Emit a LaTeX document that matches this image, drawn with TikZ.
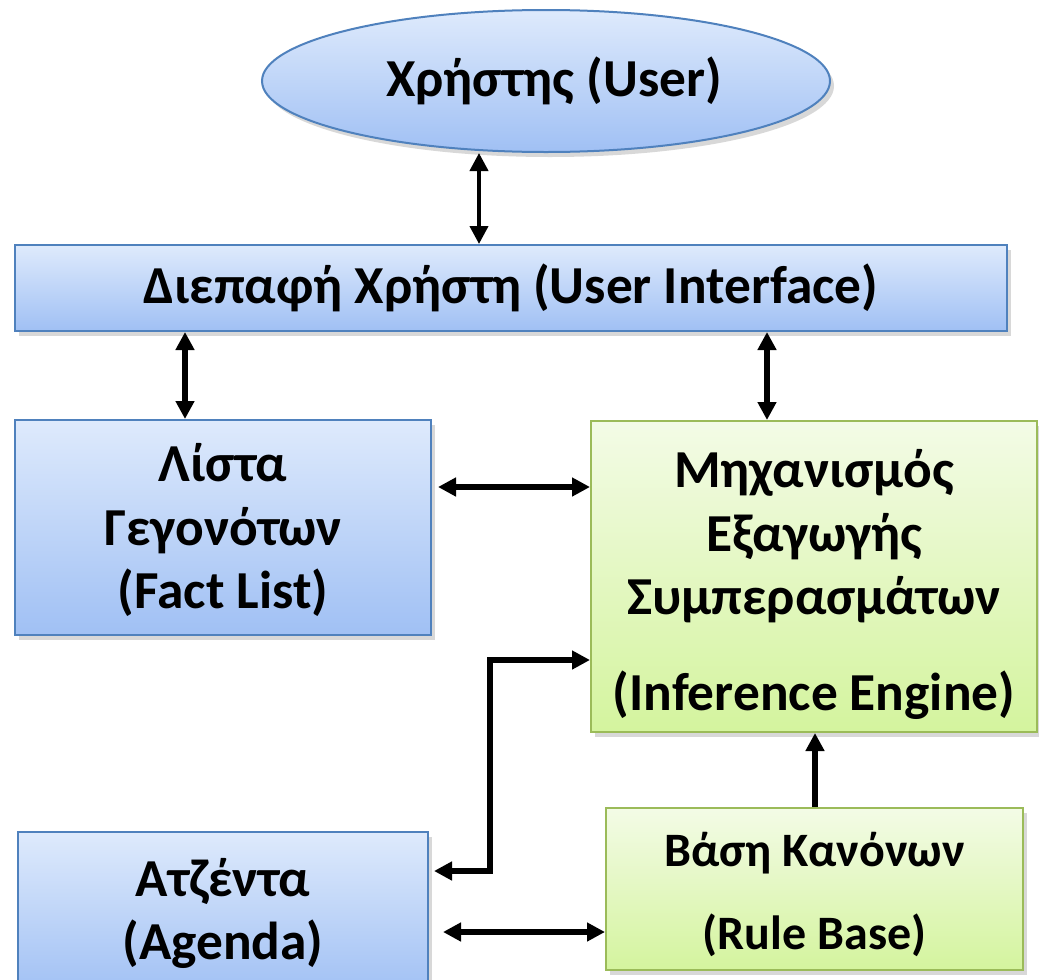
\documentclass[tikz,border=0pt]{standalone}
\usepackage{fontspec}
\setmainfont{Carlito}
\usetikzlibrary{arrows.meta,shapes.geometric,shadows}
\definecolor{bluetop}{RGB}{222,234,252}
\definecolor{bluebot}{RGB}{160,192,244}
\definecolor{blueline}{RGB}{79,129,189}
\definecolor{greentop}{RGB}{243,251,230}
\definecolor{greenbot}{RGB}{212,244,158}
\definecolor{greenline}{RGB}{155,187,89}
\begin{document}
\begin{tikzpicture}[x=0.5pt,y=-0.5pt,
  lbl/.style={font=\bfseries\fontsize{26.7}{31.75}\selectfont, align=center, text=black},
  shadowed/.style={drop shadow={opacity=0.3, shadow xshift=2pt, shadow yshift=-2.5pt}},
  bluebox/.style={draw=blueline, line width=1pt, top color=bluetop, bottom color=bluebot, shadowed, inner sep=0pt, lbl},
  greenbox/.style={draw=greenline, line width=1pt, top color=greentop, bottom color=greenbot, shadowed, inner sep=0pt, lbl},
  arr/.style={line width=2.9pt, {Triangle[length=9pt,width=9pt]}-{Triangle[length=9pt,width=9pt]}},
  arrone/.style={line width=2.9pt, -{Triangle[length=9pt,width=9pt]}}
]
\clip (0,0) rectangle (1039,980);
\fill[white] (0,0) rectangle (1039,980);

\node[bluebox, ellipse, minimum width=284pt, minimum height=71pt] (user) at (546,81) {\hspace*{8pt}Χρήστης (User)};
\node[bluebox, rectangle, minimum width=496pt, minimum height=43pt] (ui) at (511,288) {Διεπαφή Χρήστη (User Interface)};
\node[bluebox, rectangle, minimum width=208pt, minimum height=107.5pt] (fact) at (223,527.5) {\rule{0pt}{22pt}Λίστα\\Γεγονότων\\(Fact List)};
\node[greenbox, rectangle, minimum width=223pt, minimum height=155.5pt] (inf) at (814,576.5) {\rule{0pt}{27pt}Μηχανισμός\\Εξαγωγής\\Συμπερασμάτων\\[16pt](Inference Engine)};
\node[bluebox, rectangle, minimum width=205pt, minimum height=81.5pt] (agenda) at (223,913.5) {Ατζέντα\\(Agenda)};
\node[greenbox, rectangle, minimum width=208.5pt, minimum height=81pt, font=\bfseries\fontsize{24}{28.8}\selectfont] (rule) at (814.5,889) {\rule{0pt}{23pt}Βάση Κανόνων\\[12.7pt](Rule Base)};

\coordinate (bend1) at (490,871);
\coordinate (bend2) at (490,660);

\draw[arr, line width=2pt] (user.south -| 479,0) -- (ui.north -| 479,0);
\draw[arr] (ui.south -| 185,0) -- (fact.north -| 185,0);
\draw[arr] (ui.south -| 767,0) -- (inf.north -| 767,0);
\draw[arr] ([xshift=3pt]fact.east |- 0,487) -- (inf.west |- 0,487);
\draw[arr] ([xshift=2.5pt]agenda.east |- bend1) -- (bend1) -- (bend2) -- (inf.west |- bend2);
\draw[arrone] (rule.north -| 815,0) -- (inf.south -| 815,0);
\draw[arr] ([xshift=7pt]agenda.east |- 0,932) -- (rule.west |- 0,932);
\end{tikzpicture}
\end{document}
